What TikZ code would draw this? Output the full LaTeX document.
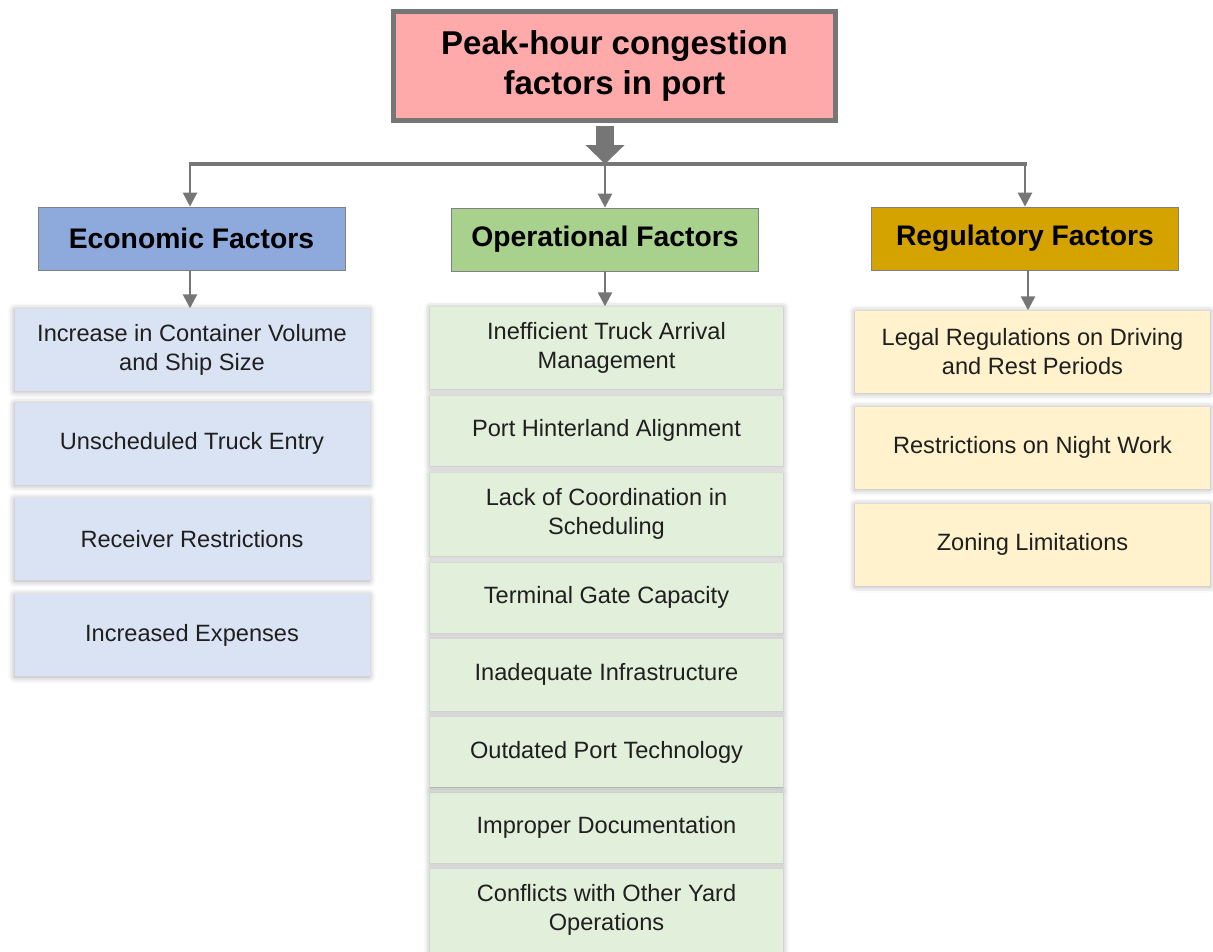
\documentclass[tikz,border=0pt]{standalone}
\usepackage{fontspec}
\setmainfont{Liberation Sans}
\usepackage{xcolor}
\usetikzlibrary{arrows.meta, positioning, shadows.blur}
\definecolor{linegray}{RGB}{118, 118, 118}
\definecolor{titlepink}{RGB}{255, 170, 170}
\definecolor{ecohead}{RGB}{142, 169, 219}
\definecolor{ophead}{RGB}{169, 209, 142}
\definecolor{reghead}{RGB}{213, 163, 0}
\definecolor{ecoitem}{RGB}{218, 227, 243}
\definecolor{opitem}{RGB}{226, 239, 218}
\definecolor{regitem}{RGB}{255, 242, 204}

\begin{document}
\begin{tikzpicture}[x=1pt, y=-1pt]
    \tikzstyle{title} = [rectangle, draw=linegray, line width=5pt, fill=titlepink,
                         minimum width=442pt, minimum height=109pt, align=center,
                         font=\fontsize{33}{40}\selectfont\bfseries]
    \tikzstyle{head}  = [rectangle, draw=gray, line width=0.8pt,
                         minimum width=307pt, minimum height=63pt,
                         font=\fontsize{28.3}{34}\selectfont\bfseries]
    \tikzstyle{item}  = [rectangle, draw=none, align=center, text=black!88,
                         minimum width=355pt, minimum height=82pt,
                         font=\fontsize{23.6}{28.8}\selectfont,
                         blur shadow={shadow xshift=0pt, shadow yshift=-1pt,
                                      shadow blur radius=6pt, shadow opacity=35}]
    \tikzstyle{arr}   = [-{Triangle[width=14pt, length=14pt]}, line width=2.5pt, linegray]
    \tikzstyle{bigarr}= [-{Triangle[width=38pt, length=19pt]}, line width=18pt, linegray]

    \useasboundingbox (0,0) rectangle (1213,951);

    %% Title
    \node[title] at (614.5,66) (top) {Peak-hour congestion\\factors in port};

    %% Column headings
    \node[head, fill=ecohead] at (191.5,238.5) (eco) {Economic Factors};
    \node[head, fill=ophead]  at (605,239.5)   (op)  {Operational Factors};
    \node[head, fill=reghead] at (1025,238.5)  (reg) {Regulatory Factors};

    %% Economic column
    \node[item, fill=ecoitem] at (192,349.5) (eco1) {Increase in Container Volume\\and Ship Size};
    \node[item, fill=ecoitem] at (192,443.5) (eco2) {Unscheduled Truck Entry};
    \node[item, fill=ecoitem] at (192,539)   (eco3) {Receiver Restrictions};
    \node[item, fill=ecoitem] at (192,635)   (eco4) {Increased Expenses};

    %% Operational column
    \node[item, fill=opitem, minimum width=353pt]                    at (606.5,347.5) (op1) {Inefficient Truck Arrival\\Management};
    \node[item, fill=opitem, minimum width=353pt, minimum height=70pt] at (606.5,430.5) (op2) {Port Hinterland Alignment};
    \node[item, fill=opitem, minimum width=353pt, minimum height=83pt] at (606.5,514)   (op3) {Lack of Coordination in\\Scheduling};
    \node[item, fill=opitem, minimum width=353pt, minimum height=70pt] at (606.5,597.5) (op4) {Terminal Gate Capacity};
    \node[item, fill=opitem, minimum width=353pt, minimum height=72pt] at (606.5,674.5) (op5) {Inadequate Infrastructure};
    \node[item, fill=opitem, minimum width=353pt, minimum height=71pt] at (606.5,752)   (op6) {Outdated Port Technology};
    \node[item, fill=opitem, minimum width=353pt, minimum height=70pt] at (606.5,827.5) (op7) {Improper Documentation};
    \node[item, fill=opitem, minimum width=353pt, minimum height=83pt] at (606.5,910)   (op8) {Conflicts with Other Yard\\Operations};

    %% Regulatory column
    \node[item, fill=regitem] at (1032.5,351.5) (reg1) {Legal Regulations on Driving\\and Rest Periods};
    \node[item, fill=regitem] at (1032.5,447.5) (reg2) {Restrictions on Night Work};
    \node[item, fill=regitem] at (1032.5,544.5) (reg3) {Zoning Limitations};

    %% ── Bus line under the title ───────────────────────────────────────────
    \coordinate (busL) at (190,164);
    \coordinate (busM) at (605,164);
    \coordinate (busR) at (1025,164);
    \draw[linegray, line width=4pt] ([xshift=-1.25pt]busL) -- ([xshift=2pt]busR);
    \draw[bigarr] (top.south -| busM) ++(0,-2.5pt) -- (busM);

    %% ── Bus → headings ─────────────────────────────────────────────────────
    \draw[arr] (busL) -- (busL |- eco.north);
    \draw[arr] (busM) -- (busM |- op.north);
    \draw[arr] (busR) -- (busR |- reg.north);

    %% ── Headings → first items ─────────────────────────────────────────────
    \draw[arr] (eco.south -| busL) -- (busL |- eco1.north);
    \draw[arr] (op.south -| busM)  -- (busM |- op1.north);
    \draw[arr] ([xshift=3pt]reg.south) -- ([xshift=3pt]reg.south |- reg1.north);
\end{tikzpicture}
\end{document}
